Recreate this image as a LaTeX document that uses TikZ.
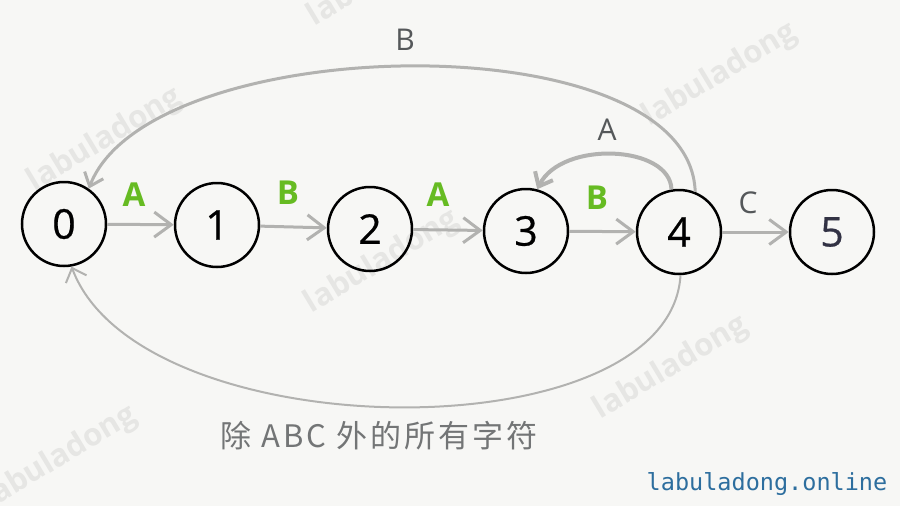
\documentclass[tikz,border=0pt]{standalone}
\usepackage{fontspec}
\setmainfont{Open Sans}
\newfontfamily\cjk{Noto Sans CJK SC}[LetterSpace=10]
\newfontfamily\monofont{DejaVu Sans Mono}
\newfontfamily\digfont{Open Sans}[FakeBold=0.6]
\usetikzlibrary{arrows.meta}
\definecolor{bg}{RGB}{247,247,245}
\definecolor{edgegray}{RGB}{178,178,176}
\definecolor{lblgreen}{RGB}{102,187,34}
\definecolor{lblgray}{RGB}{85,88,90}
\definecolor{cjkgray}{RGB}{115,117,118}
\definecolor{wm}{RGB}{230,230,228}
\definecolor{site}{RGB}{45,110,158}
\definecolor{slate}{RGB}{50,50,68}
\begin{document}
\begin{tikzpicture}[x=1pt,y=-1pt,
  state/.style={circle,draw=black,line width=2.5pt,minimum size=84pt,inner sep=0pt,font=\digfont\fontsize{41}{41}\selectfont},
  edge/.style={draw=edgegray,line width=3pt,-{Straight Barb[length=17pt,width=25pt]}},
  curve/.style={draw=edgegray,line width=2.6pt,-{Straight Barb[length=12pt,width=20pt]}},
  thincurve/.style={draw=edgegray,line width=2pt,-{Straight Barb[length=12pt,width=22pt]}},
  glbl/.style={text=lblgreen,font=\fontsize{33}{33}\selectfont\bfseries},
  graylbl/.style={text=lblgray,font=\fontsize{30}{30}\selectfont},
  wmark/.style={text=wm,rotate=31,font=\fontsize{31}{31}\selectfont\bfseries}]
\fill[bg] (0,0) rectangle (900,506);
\useasboundingbox (0,0) rectangle (900,506);
% watermarks
\node[wmark] (w1) at (105,140) {labuladong};
\node[wmark] (w2) at (720,75) {labuladong};
\node[wmark] (w3) at (382,262) {labuladong};
\node[wmark] (w4) at (671,368) {labuladong};
\node[wmark] (w5) at (60,458) {labuladong};
\node[wmark] (w6) at (385,-25) {labuladong};
% states
\node[state] (n0) at (64,224) {0};
\node[state] (n1) at (217,225) {1};
\node[state] (n2) at (370,229) {2};
\node[state] (n3) at (526,231) {3};
\node[state] (n4) at (679,232) {4};
\node[state,text=slate] (n5) at (832,232) {5};
% straight edges
\draw[edge] (n0) -- (n1);
\draw[edge] (n1) -- (n2);
\draw[edge] (n2) -- (n3);
\draw[edge] (n3) -- (n4);
\draw[edge] (n4) -- (n5);
\node[glbl] (la) at (134,195) {A};
\node[glbl] (lb) at (288,193) {B};
\node[glbl] (lc) at (438,195) {A};
\node[glbl] (ld) at (597,198) {B};
\node[graylbl] (le) at (748,203) {C};
% curved edges
\draw[curve,line width=4pt] (n4.100) .. controls (670,145) and (562,140) .. (n3.75);
\node[graylbl] (lf) at (607,130) {A};
\draw[curve,line width=3pt] (n4.68) .. controls (690,20) and (150,30) .. (n0.55);
\node[graylbl] (lg) at (405,40) {B};
\draw[thincurve] (n4.-88) .. controls (670,455) and (140,450) .. (n0.-80);
\node[text=cjkgray,font=\cjk\fontsize{31}{31}\selectfont] (lh) at (379,436) {除 ABC 外的所有字符};
\node[text=site,font=\monofont\fontsize{23.5}{23.5}\selectfont] (site) at (767,484) {labuladong.online};
\end{tikzpicture}
\end{document}
